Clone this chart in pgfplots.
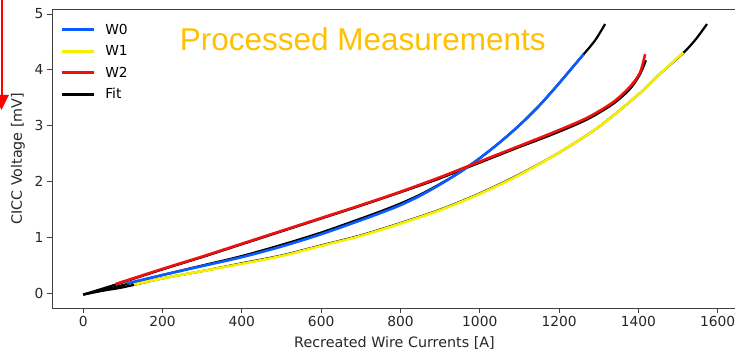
\documentclass[border=0pt]{standalone}
\usepackage{fontspec}
\setmainfont{DejaVu Sans}
\newfontfamily\titlefont{Liberation Sans}
\usepackage{pgfplots}
\pgfplotsset{compat=1.18}
\definecolor{cblue}{HTML}{0B5CFF}
\definecolor{cyellow}{HTML}{F5F000}
\definecolor{cred}{HTML}{F01010}
\definecolor{ctitle}{HTML}{FFC000}
\begin{document}
\begin{tikzpicture}
\begin{axis}[
  at={(0,0)}, anchor=south west,
  scale only axis, width=687bp, height=298.5bp,
  xmin=-78.75, xmax=1653.75, ymin=-0.26, ymax=5.08,
  xtick={0,200,...,1600}, ytick={0,1,2,3,4,5},
  tick align=outside, xtick pos=bottom, ytick pos=left,
  major tick length=5bp,
  axis line style={black!75, line width=0.9bp},
  every tick/.style={black!75, line width=0.9bp},
  /pgf/number format/assume math mode=true,
  /pgf/number format/1000 sep={},
  ticklabel style={font=\fontsize{13.8bp}{16bp}\selectfont, text=black!85},
  xlabel={Recreated Wire Currents [A]},
  ylabel={CICC Voltage [mV]},
  label style={font=\fontsize{14.3bp}{17bp}\selectfont, text=black!85},
  xlabel style={at={(axis description cs:0.4985,-0.117)}, anchor=center},
  ylabel style={at={(axis description cs:-0.0495,0.5)}, anchor=center},
  legend style={at={(axis description cs:0.008,0.966)}, anchor=north west, draw=none, fill=none,
    font=\fontsize{13.8bp}{16bp}\selectfont, row sep=5.9bp},
  legend cell align=left,
  legend image code/.code={\draw[#1, line width=2.6bp] (0bp,0bp) -- (32bp,0bp); \path (40bp,0bp);},
]
% fits (drawn first, under the data)
\addplot[black, line width=2.2bp, smooth, forget plot] coordinates {(0,-0.02)(50,0.06)(100,0.15)(200,0.33)(300,0.50)(400,0.67)(500,0.87)(600,1.09)(700,1.34)(750,1.47)(800,1.61)(850,1.77)(900,1.96)(950,2.17)(1000,2.42)(1050,2.70)(1100,3.01)(1150,3.36)(1200,3.76)(1250,4.18)(1290,4.52)(1316,4.82)};
\addplot[black, line width=2.2bp, smooth, forget plot] coordinates {(0,-0.02)(50,0.05)(100,0.11)(200,0.27)(300,0.40)(400,0.54)(500,0.68)(600,0.86)(700,1.04)(800,1.26)(900,1.50)(1000,1.79)(1100,2.13)(1200,2.52)(1300,2.98)(1400,3.56)(1450,3.90)(1513,4.30)(1545,4.55)(1573,4.82)};
\addplot[black, line width=2.2bp, smooth, forget plot] coordinates {(0,-0.02)(82,0.16)(200,0.43)(300,0.65)(400,0.88)(500,1.11)(600,1.34)(700,1.57)(800,1.81)(900,2.06)(975,2.27)(1050,2.48)(1100,2.62)(1185,2.85)(1270,3.11)(1336,3.39)(1379,3.66)(1404,3.92)(1419,4.17)};
% measurements
\addplot[cblue, line width=2.6bp, smooth] coordinates {(110,0.18)(200,0.33)(300,0.49)(400,0.65)(500,0.84)(600,1.06)(700,1.31)(750,1.44)(800,1.58)(850,1.75)(900,1.95)(950,2.17)(1000,2.42)(1050,2.70)(1100,3.01)(1150,3.36)(1200,3.76)(1250,4.18)(1262,4.28)};
\addlegendentry{W0}
\addplot[cyellow, line width=2.6bp, smooth] coordinates {(128,0.16)(200,0.27)(300,0.40)(400,0.53)(500,0.67)(600,0.85)(700,1.03)(800,1.25)(900,1.49)(1000,1.78)(1100,2.12)(1200,2.52)(1300,2.98)(1400,3.56)(1450,3.90)(1513,4.31)};
\addlegendentry{W1}
\addplot[cred, line width=2.6bp, smooth] coordinates {(82,0.17)(200,0.44)(300,0.66)(400,0.89)(500,1.12)(600,1.35)(700,1.58)(800,1.82)(900,2.08)(975,2.29)(1050,2.50)(1100,2.64)(1185,2.88)(1270,3.14)(1336,3.42)(1379,3.70)(1404,3.95)(1417,4.28)};
\addlegendentry{W2}
\addlegendimage{black, line width=2.6bp}
\addlegendentry{Fit}
\node[font=\titlefont\fontsize{31.5bp}{36bp}\selectfont, text=ctitle, anchor=base] at (axis cs:705,4.34) {Processed Measurements};
\end{axis}
% cropped red arrow at the left edge of the slide
\draw[red, line width=2bp] (-50bp,309bp) -- (-50bp,212bp);
\fill[red] (-58bp,213bp) -- (-43bp,213bp) -- (-50.5bp,198bp) -- cycle;
\pgfresetboundingbox
\useasboundingbox (-52bp,-45bp) rectangle (683bp,308bp);
\end{tikzpicture}
\end{document}
